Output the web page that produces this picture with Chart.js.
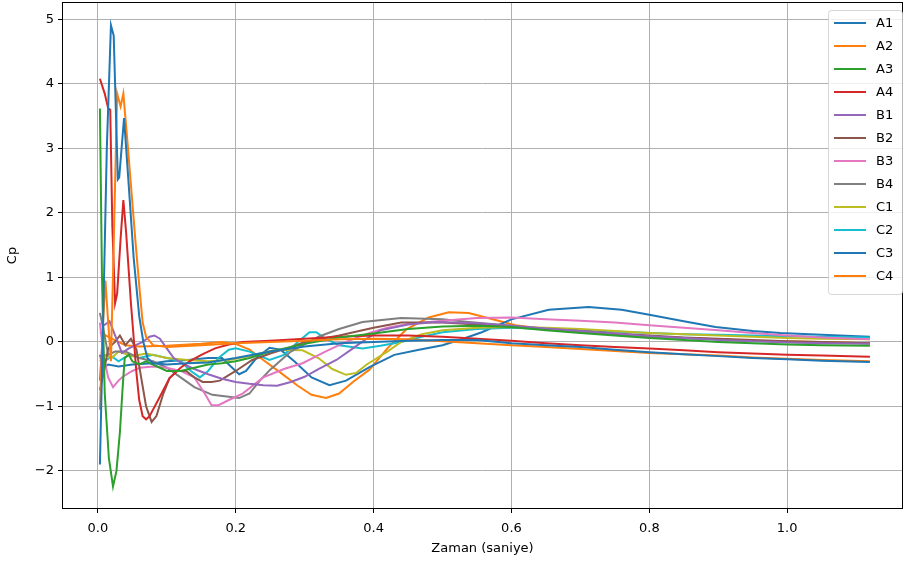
<!DOCTYPE html>
<html>
<head>
<meta charset="utf-8">
<script src="https://cdn.jsdelivr.net/npm/chart.js"></script>
<style>
  body { margin: 0; background: #fff; }
  #wrap { width: 904px; height: 563px; }
</style>
</head>
<body>
<div id="wrap"><canvas id="cpChart" width="904" height="563"></canvas></div>
<script>
// Cp readings per sensor: [time (s), Cp]
const A1 = [[0.003,-1.9],[0.008,0.5],[0.013,3.0],[0.019,4.91],[0.023,4.75],[0.029,2.52],[0.031,2.55],[0.038,3.47],[0.045,2.4],[0.052,1.3],[0.06,0.4],[0.066,0.0],[0.072,-0.25],[0.08,-0.33],[0.1,-0.35],[0.13,-0.33],[0.16,-0.32],[0.2,-0.25],[0.25,-0.15],[0.3,-0.07],[0.35,-0.02],[0.4,0.0],[0.45,0.02],[0.5,0.03],[0.55,0.03],[0.6,-0.02],[0.65,-0.05],[0.7,-0.08],[0.75,-0.12],[0.8,-0.16],[0.85,-0.19],[0.9,-0.22],[0.95,-0.25],[1.0,-0.27],[1.05,-0.29],[1.12,-0.31]];
const A2 = [[0.003,-1.05],[0.007,0.2],[0.011,0.95],[0.015,0.3],[0.019,-0.3],[0.023,1.5],[0.028,3.85],[0.033,3.65],[0.037,3.85],[0.043,3.1],[0.049,2.3],[0.055,1.5],[0.061,0.76],[0.065,0.3],[0.07,0.08],[0.08,-0.05],[0.1,-0.08],[0.15,-0.05],[0.2,-0.02],[0.25,0.0],[0.3,0.02],[0.35,0.04],[0.4,0.05],[0.45,0.04],[0.5,0.01],[0.55,-0.02],[0.6,-0.05],[0.65,-0.08],[0.7,-0.11],[0.75,-0.14],[0.8,-0.17],[0.85,-0.19],[0.9,-0.21],[0.95,-0.24],[1.0,-0.26],[1.05,-0.28],[1.12,-0.3]];
const A3 = [[0.003,3.62],[0.006,1.0],[0.01,-0.8],[0.016,-1.8],[0.022,-2.24],[0.027,-2.0],[0.032,-1.4],[0.036,-0.7],[0.039,-0.25],[0.045,-0.2],[0.05,-0.3],[0.06,-0.35],[0.07,-0.3],[0.08,-0.35],[0.1,-0.45],[0.12,-0.45],[0.14,-0.4],[0.16,-0.35],[0.18,-0.33],[0.2,-0.3],[0.22,-0.25],[0.25,-0.15],[0.28,-0.08],[0.3,-0.03],[0.35,0.07],[0.4,0.13],[0.45,0.2],[0.5,0.24],[0.55,0.25],[0.6,0.23],[0.65,0.18],[0.7,0.14],[0.75,0.1],[0.8,0.06],[0.85,0.03],[0.9,0.0],[0.95,-0.02],[1.0,-0.04],[1.05,-0.05],[1.12,-0.06]];
const A4 = [[0.003,4.08],[0.01,3.85],[0.015,3.62],[0.018,3.6],[0.021,1.8],[0.025,0.6],[0.028,0.75],[0.033,1.6],[0.037,2.2],[0.041,1.7],[0.048,0.6],[0.056,-0.48],[0.06,-0.9],[0.065,-1.15],[0.07,-1.2],[0.075,-1.15],[0.09,-0.85],[0.104,-0.56],[0.12,-0.4],[0.133,-0.3],[0.15,-0.2],[0.17,-0.1],[0.19,-0.04],[0.21,0.0],[0.25,0.02],[0.3,0.05],[0.35,0.08],[0.4,0.1],[0.45,0.1],[0.5,0.08],[0.55,0.05],[0.6,0.02],[0.65,-0.02],[0.7,-0.05],[0.75,-0.08],[0.8,-0.1],[0.85,-0.13],[0.9,-0.16],[0.95,-0.18],[1.0,-0.2],[1.05,-0.21],[1.12,-0.23]];
const B1 = [[0.003,-0.6],[0.008,0.25],[0.017,0.32],[0.025,0.1],[0.035,-0.17],[0.045,-0.1],[0.055,-0.05],[0.065,0.0],[0.075,0.08],[0.082,0.1],[0.09,0.05],[0.1,-0.1],[0.11,-0.25],[0.125,-0.35],[0.14,-0.42],[0.16,-0.5],[0.18,-0.57],[0.2,-0.62],[0.22,-0.65],[0.24,-0.67],[0.26,-0.68],[0.28,-0.62],[0.3,-0.54],[0.32,-0.42],[0.346,-0.28],[0.37,-0.1],[0.39,0.05],[0.41,0.18],[0.45,0.27],[0.49,0.31],[0.55,0.29],[0.6,0.25],[0.65,0.21],[0.7,0.17],[0.75,0.13],[0.8,0.09],[0.85,0.06],[0.9,0.03],[0.95,0.01],[1.0,-0.01],[1.05,-0.02],[1.12,-0.03]];
const B2 = [[0.003,-0.75],[0.008,-0.5],[0.015,-0.1],[0.025,0.0],[0.032,0.1],[0.04,-0.05],[0.048,0.05],[0.056,-0.12],[0.062,-0.5],[0.07,-1.0],[0.078,-1.24],[0.085,-1.15],[0.095,-0.8],[0.104,-0.56],[0.115,-0.45],[0.128,-0.45],[0.14,-0.55],[0.152,-0.62],[0.165,-0.62],[0.177,-0.6],[0.2,-0.45],[0.224,-0.28],[0.25,-0.18],[0.28,-0.08],[0.3,0.0],[0.35,0.1],[0.4,0.22],[0.44,0.3],[0.5,0.3],[0.55,0.27],[0.6,0.24],[0.65,0.2],[0.7,0.17],[0.75,0.13],[0.8,0.1],[0.85,0.07],[0.9,0.05],[0.95,0.03],[1.0,0.01],[1.05,0.0],[1.12,-0.02]];
const B3 = [[0.003,0.3],[0.008,-0.2],[0.015,-0.55],[0.022,-0.7],[0.03,-0.6],[0.036,-0.54],[0.05,-0.45],[0.061,-0.4],[0.08,-0.38],[0.1,-0.4],[0.12,-0.45],[0.14,-0.55],[0.155,-0.8],[0.165,-0.98],[0.175,-0.98],[0.19,-0.9],[0.21,-0.8],[0.24,-0.55],[0.27,-0.42],[0.297,-0.33],[0.33,-0.15],[0.36,0.0],[0.394,0.14],[0.42,0.22],[0.45,0.28],[0.5,0.33],[0.55,0.37],[0.6,0.38],[0.65,0.35],[0.7,0.33],[0.75,0.3],[0.8,0.26],[0.85,0.22],[0.9,0.18],[0.95,0.14],[1.0,0.1],[1.05,0.07],[1.12,0.04]];
const B4 = [[0.003,0.45],[0.008,0.2],[0.015,-0.2],[0.025,-0.15],[0.04,-0.15],[0.06,-0.25],[0.08,-0.3],[0.1,-0.4],[0.12,-0.55],[0.14,-0.7],[0.166,-0.82],[0.19,-0.85],[0.205,-0.87],[0.22,-0.8],[0.235,-0.6],[0.25,-0.43],[0.28,-0.15],[0.32,0.08],[0.35,0.2],[0.384,0.31],[0.44,0.37],[0.5,0.35],[0.538,0.31],[0.6,0.25],[0.65,0.2],[0.7,0.15],[0.75,0.12],[0.8,0.09],[0.85,0.06],[0.9,0.04],[0.95,0.02],[1.0,0.0],[1.05,-0.01],[1.12,-0.02]];
const C1 = [[0.003,-0.3],[0.01,-0.2],[0.02,-0.25],[0.03,-0.15],[0.05,-0.22],[0.07,-0.18],[0.1,-0.25],[0.13,-0.28],[0.16,-0.3],[0.19,-0.28],[0.22,-0.22],[0.25,-0.14],[0.263,-0.12],[0.297,-0.13],[0.32,-0.25],[0.34,-0.42],[0.36,-0.51],[0.375,-0.48],[0.39,-0.35],[0.42,-0.15],[0.44,0.0],[0.47,0.12],[0.5,0.18],[0.55,0.22],[0.6,0.23],[0.65,0.22],[0.7,0.2],[0.75,0.17],[0.8,0.14],[0.85,0.12],[0.9,0.1],[0.95,0.08],[1.0,0.06],[1.05,0.05],[1.12,0.04]];
const C2 = [[0.003,-0.25],[0.01,-0.3],[0.02,-0.22],[0.03,-0.3],[0.045,-0.2],[0.06,-0.25],[0.08,-0.2],[0.1,-0.25],[0.12,-0.3],[0.135,-0.45],[0.148,-0.55],[0.16,-0.45],[0.175,-0.25],[0.19,-0.12],[0.2,-0.1],[0.22,-0.15],[0.249,-0.28],[0.27,-0.2],[0.29,0.0],[0.307,0.15],[0.317,0.15],[0.33,0.05],[0.35,-0.05],[0.384,-0.1],[0.41,-0.06],[0.44,0.0],[0.47,0.08],[0.5,0.15],[0.55,0.2],[0.6,0.22],[0.65,0.2],[0.7,0.18],[0.75,0.16],[0.8,0.14],[0.85,0.12],[0.9,0.11],[0.95,0.1],[1.0,0.09],[1.05,0.08],[1.12,0.07]];
const C3 = [[0.003,-0.2],[0.008,-0.4],[0.015,-0.35],[0.03,-0.38],[0.05,-0.35],[0.08,-0.33],[0.1,-0.3],[0.13,-0.28],[0.16,-0.25],[0.18,-0.25],[0.193,-0.38],[0.205,-0.5],[0.215,-0.45],[0.23,-0.25],[0.249,-0.09],[0.265,-0.12],[0.285,-0.3],[0.31,-0.55],[0.336,-0.67],[0.36,-0.6],[0.394,-0.39],[0.43,-0.2],[0.466,-0.12],[0.5,-0.05],[0.53,0.05],[0.557,0.15],[0.6,0.35],[0.654,0.5],[0.712,0.54],[0.76,0.5],[0.8,0.42],[0.85,0.32],[0.896,0.23],[0.95,0.17],[0.99,0.14],[1.05,0.11],[1.12,0.08]];
const C4 = [[0.003,0.15],[0.02,0.05],[0.04,-0.05],[0.06,-0.07],[0.1,-0.06],[0.15,-0.03],[0.18,0.0],[0.2,-0.03],[0.22,-0.12],[0.24,-0.28],[0.263,-0.46],[0.29,-0.68],[0.31,-0.82],[0.331,-0.87],[0.35,-0.8],[0.37,-0.62],[0.394,-0.43],[0.42,-0.1],[0.447,0.19],[0.48,0.38],[0.509,0.46],[0.538,0.45],[0.57,0.36],[0.606,0.26],[0.65,0.2],[0.7,0.16],[0.75,0.12],[0.8,0.08],[0.85,0.06],[0.9,0.04],[0.95,0.02],[1.0,0.01],[1.05,0.0],[1.12,-0.02]];

const sensorNames = ['A1','A2','A3','A4','B1','B2','B3','B4','C1','C2','C3','C4'];
const sensorData = [A1, A2, A3, A4, B1, B2, B3, B4, C1, C2, C3, C4];
const xTicks = [0.0, 0.2, 0.4, 0.6, 0.8, 1.0];
const yTicks = [-2, -1, 0, 1, 2, 3, 4, 5];

// matplotlib tab10 cycle
const palette = ['#1f77b4','#ff7f0e','#2ca02c','#d62728','#9467bd','#8c564b','#e377c2','#7f7f7f','#bcbd22','#17becf'];
const FONT = 'DejaVu Sans';

const datasets = sensorNames.map((name, i) => ({
  label: name,
  data: sensorData[i].map(p => ({ x: p[0], y: p[1] })),
  borderColor: palette[i % palette.length],
  backgroundColor: palette[i % palette.length],
  borderWidth: 2,
  pointRadius: 0,
  tension: 0,
  fill: false
}));

// axes frame on all four sides
const framePlugin = {
  id: 'frame',
  afterDatasetsDraw(chart) {
    const { ctx, chartArea: a } = chart;
    ctx.save();
    ctx.strokeStyle = '#000';
    ctx.lineWidth = 1;
    ctx.strokeRect(a.left + 0.5, a.top + 0.5, a.right - a.left - 1, a.bottom - a.top - 1);
    ctx.restore();
  }
};

// legend box inside the plot, upper right
const boxLegend = {
  id: 'boxLegend',
  afterDraw(chart) {
    const { ctx, chartArea: a } = chart;
    const sets = chart.data.datasets;
    const rowH = 23;
    const w = 74, h = 12 + rowH * sets.length - 4;
    const x0 = a.right - w - 1, y0 = a.top + 8;
    ctx.save();
    ctx.fillStyle = 'rgba(255,255,255,0.8)';
    ctx.strokeStyle = 'rgba(204,204,204,0.8)';
    ctx.lineWidth = 1;
    ctx.beginPath();
    ctx.roundRect(x0 + 0.5, y0 + 0.5, w, h, 3);
    ctx.fill();
    ctx.stroke();
    ctx.font = '13px "' + FONT + '"';
    ctx.textBaseline = 'middle';
    ctx.fillStyle = '#000';
    sets.forEach((ds, i) => {
      const y = y0 + 13 + i * rowH;
      ctx.strokeStyle = ds.borderColor;
      ctx.lineWidth = 2;
      ctx.beginPath();
      ctx.moveTo(x0 + 6, y);
      ctx.lineTo(x0 + 38, y);
      ctx.stroke();
      ctx.fillText(ds.label, x0 + 48, y + 1);
    });
    ctx.restore();
  }
};

new Chart(document.getElementById('cpChart'), {
  type: 'line',
  data: { datasets },
  options: {
    responsive: false,
    devicePixelRatio: 1,
    animation: false,
    layout: { padding: { top: 2, right: 1, left: 0, bottom: 0 } },
    plugins: {
      legend: { display: false },
      tooltip: { enabled: false }
    },
    scales: {
      x: {
        type: 'linear',
        min: -0.052,
        max: 1.168,
        afterBuildTicks: axis => { axis.ticks = xTicks.map(v => ({ value: v })); },
        afterFit: scale => {
          scale.height = 54;
          scale.paddingLeft = 0;
          scale.paddingRight = 0;
        },
        ticks: {
          color: '#000',
          padding: 8,
          maxRotation: 0,
          font: { family: FONT, size: 13 },
          callback: v => v.toFixed(1)
        },
        grid: { color: '#b0b0b0', lineWidth: 1, tickColor: '#000', tickLength: 4 },
        border: { display: false },
        title: {
          display: true,
          text: 'Zaman (saniye)',
          color: '#000',
          font: { family: FONT, size: 13 },
          padding: { top: 0, bottom: 7 }
        }
      },
      y: {
        type: 'linear',
        min: -2.59,
        max: 5.27,
        afterBuildTicks: axis => { axis.ticks = yTicks.map(v => ({ value: v })); },
        afterFit: scale => {
          scale.width = 62;
          scale.paddingTop = 0;
          scale.paddingBottom = 0;
        },
        ticks: {
          color: '#000',
          padding: 4,
          font: { family: FONT, size: 13 },
          callback: v => String(v).replace('-', '\u2212')
        },
        grid: { color: '#b0b0b0', lineWidth: 1, tickColor: '#000', tickLength: 4 },
        border: { display: false },
        title: {
          display: true,
          text: 'Cp',
          color: '#000',
          font: { family: FONT, size: 13 },
          padding: { top: 5, bottom: 0 }
        }
      }
    }
  },
  plugins: [framePlugin, boxLegend]
});
</script>
</body>
</html>
